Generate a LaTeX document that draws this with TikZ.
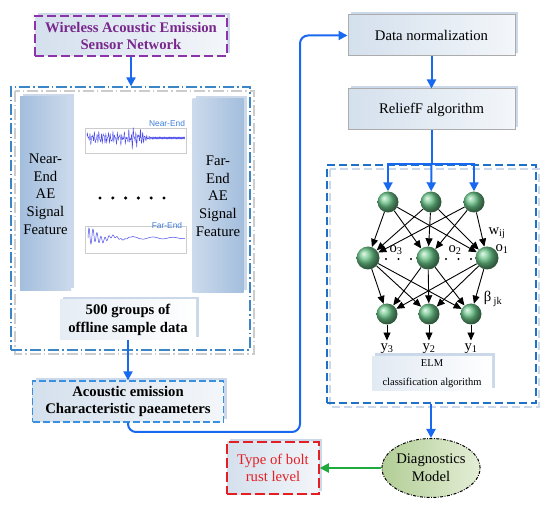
\documentclass[tikz,border=0pt]{standalone}
\usepackage{fontspec}
\setmainfont{Liberation Serif}
\newfontfamily\plotsans{Liberation Sans}
\usetikzlibrary{positioning}
\usetikzlibrary{shapes.geometric}
\usetikzlibrary{shadows,arrows.meta}
\definecolor{flowblue}{RGB}{25,105,240}
\definecolor{frameblue}{RGB}{60,134,200}
\definecolor{elmblue}{RGB}{30,112,200}
\definecolor{parablue}{RGB}{58,144,224}
\definecolor{purpleline}{RGB}{140,50,170}
\definecolor{purpletext}{RGB}{120,40,140}
\definecolor{rustred}{RGB}{228,30,35}
\definecolor{greenarrow}{RGB}{30,170,60}
\definecolor{paleblue}{RGB}{212,224,237}
\definecolor{whiteblue}{RGB}{243,246,250}
\definecolor{shadowblue}{RGB}{203,216,233}
\definecolor{bardark}{RGB}{163,190,221}
\definecolor{barlight}{RGB}{204,218,236}
\definecolor{nodegreen}{RGB}{105,195,135}
\definecolor{elldark}{RGB}{178,206,150}
\definecolor{elllight}{RGB}{228,238,214}
\definecolor{signalblue}{RGB}{75,75,235}
\definecolor{plotlabel}{RGB}{60,125,220}
\newcommand{\boxfont}{\fontsize{14.7}{17.7}\selectfont}
\newcommand{\smallboxfont}{\fontsize{10.5}{19}\selectfont}
\tikzstyle{shadowed} = [drop shadow={shadow xshift=3pt, shadow yshift=3pt, fill=shadowblue, opacity=1}]
\tikzstyle{sensorbox} = [rectangle, minimum width=192pt, minimum height=40pt, align=center, draw=purpleline, line width=1.5pt, dash pattern=on 9pt off 4pt, left color=paleblue, right color=whiteblue, shadowed, text=purpletext, font=\boxfont\bfseries]
\tikzstyle{framebox} = [rectangle, draw=frameblue, line width=1.3pt, dash pattern=on 11pt off 3pt on 1.5pt off 3pt]
\tikzstyle{barbox} = [rectangle, minimum width=51pt, minimum height=194pt, align=center, shadowed]
\tikzstyle{samplebox} = [rectangle, minimum width=136pt, minimum height=40pt, align=center, left color=paleblue!60, right color=white, shadowed, font=\boxfont\bfseries]
\tikzstyle{parambox} = [rectangle, minimum width=191pt, minimum height=41pt, align=center, draw=parablue, line width=1.3pt, dash pattern=on 7pt off 3pt, left color=paleblue, right color=whiteblue, shadowed, font=\boxfont\bfseries]
\tikzstyle{process} = [rectangle, minimum width=167pt, minimum height=41pt, align=center, draw=gray!65, line width=1pt, left color=paleblue, right color=whiteblue, shadowed]
\tikzstyle{elmframe} = [rectangle, draw=elmblue, line width=2pt, dash pattern=on 8pt off 4pt]
\tikzstyle{elmlabel} = [rectangle, minimum width=120pt, minimum height=33pt, align=center, left color=paleblue!70, right color=white, shadowed, font=\smallboxfont]
\tikzstyle{neuron} = [circle, minimum size=21pt, inner sep=0pt, shading=ball, ball color=nodegreen]
\tikzstyle{diagnosis} = [ellipse, minimum width=88pt, minimum height=59pt, inner sep=0pt, align=center, draw=black, line width=1pt, dash pattern=on 3pt off 1.5pt on 0.8pt off 1.5pt, left color=elldark, right color=elllight]
\tikzstyle{rustbox} = [rectangle, minimum width=92pt, minimum height=52pt, align=center, draw=rustred, line width=1.5pt, dash pattern=on 10pt off 4pt, left color=paleblue, right color=whiteblue, shadowed, text=rustred]
\tikzstyle{flow} = [-{Triangle[length=9pt,width=9pt]}, line width=2pt, flowblue]
\tikzstyle{netarrow} = [-{Triangle[length=8pt,width=7pt]}, line width=0.9pt, black]

\begin{document}
\begin{tikzpicture}[x=1pt, y=-1pt, font=\boxfont]
\useasboundingbox (0,0) rectangle (550,508);

% left part: sensor data
\node[sensorbox](wireless) at (131,36) {Wireless Acoustic Emission\\Sensor Network};
\draw[gray!40, line width=1.3pt, dash pattern=on 11pt off 3pt on 1.5pt off 3pt] (15,91) rectangle (254,354);
\node[framebox, minimum width=239pt, minimum height=263pt](frame) at (130.5,218.5) {};
\node[barbox, left color=bardark, right color=barlight](nearbar) at (45.5,194) {Near-\\End\\AE\\Signal\\Feature};
\node[barbox, left color=barlight, right color=bardark](farbar) at (218,196) {Far-\\End\\AE\\Signal\\Feature};
% waveforms
\draw[gray!40, line width=0.3pt] (85,128) rectangle (186,153);
\draw[signalblue, line width=0.4pt] plot[domain=0:53, samples=240] ({87+\x}, {138 - (0.8+0.7*exp(-((\x-46)^2)/12))*(4*sin(\x*157) + 3*sin(\x*251+40) + 2*sin(\x*71))});
\draw[signalblue, line width=0.5pt] plot[domain=0:45, samples=240] ({140+\x}, {138 - 9*exp(-\x/4)*sin(\x*170) - 0.9*sin(\x*283)});
\node[font=\plotsans\fontsize{8.4}{10}\selectfont, text=plotlabel](nearlabel) at (167,123) {Near-End};
\draw[gray!40, line width=0.3pt] (85,226) rectangle (186,253);
\draw[signalblue, line width=0.5pt] plot[domain=0:97, samples=300] ({88+\x}, {238 - 10*exp(-\x/12)*sin(\x*90) - 2.5*exp(-\x/70)*sin(\x*18)});
\node[font=\plotsans\fontsize{8.4}{10}\selectfont, text=plotlabel](farlabel) at (167,225) {Far-End};
\foreach \k in {0,...,5}
  \fill (100+\k*12.8,198) circle (1.7);
\node[samplebox](samples) at (128,320) {500 groups of\\offline sample data};
\node[parambox](params) at (128,401.5) {Acoustic emission\\Characteristic paeameters};
\draw[flow] (wireless.south) -- (wireless.south |- frame.north);
\draw[flow] (samples.south) -- (params.north);

% right part: feature processing and ELM
\node[process](datanorm) at (431.5,35.5) {Data normalization};
\node[process](relief) at (431.5,109.5) {ReliefF algorithm};
\coordinate (turn) at (300,432);
\draw[flow, rounded corners=8pt] (params.south) |- (turn) |- (datanorm.west);
\draw[flow] (datanorm) -- (relief);

\draw[shadowblue, line width=2pt, dash pattern=on 8pt off 4pt] (330,169) rectangle (539,407);
\node[elmframe, minimum width=209pt, minimum height=238pt](elm) at (431,284) {};
\node[neuron](in1) at (388,202) {};
\node[neuron](in2) at (431,202) {};
\node[neuron](in3) at (474,202) {};
\node[neuron, minimum size=23pt](hid1) at (368,258) {};
\node[neuron, minimum size=23pt](hid2) at (428,258) {};
\node[neuron, minimum size=23pt](hid3) at (487,258) {};
\node[neuron](out1) at (387,314) {};
\node[neuron](out2) at (429,314) {};
\node[neuron](out3) at (471,314) {};
\coordinate (split) at (431.5,164);
\draw[flowblue, line width=2pt] (relief.south) -- (split);
\draw[flow] (split) -| (in1);
\draw[flow] (split) -- (in2);
\draw[flow] (split) -| (in3);
\foreach \i in {1,2,3}
  \foreach \j in {1,2,3}
  {
    \draw[netarrow] (in\i) -- (hid\j);
    \draw[netarrow] (hid\i) -- (out\j);
  }
\foreach \k in {0,1,2}
{
  \fill (386+\k*12.5,259) circle (1.2);
  \fill (446+\k*12.5,259) circle (1.2);
}
\node(ylab1) at (387,349) {y\textsubscript{3}};
\node(ylab2) at (429,349) {y\textsubscript{2}};
\node(ylab3) at (471,349) {y\textsubscript{1}};
\foreach \k in {1,2,3}
  \draw[netarrow] (out\k) -- (ylab\k);
\node(wlabel) at (497,233) {w\textsubscript{ij}};
\node(olabel3) at (396,250) {o\textsubscript{3}};
\node(olabel2) at (455,250) {o\textsubscript{2}};
\node(olabel1) at (502,249) {o\textsubscript{1}};
\node(blabel) at (493,299) {β\,\textsubscript{jk}};
\node[elmlabel](elmtext) at (432,373.5) {ELM\\classification algorithm};

% result
\node[diagnosis](diag) at (431,468) {Diagnostics\\Model};
\node[rustbox](rust) at (273,468) {Type of bolt\\rust level};
\draw[flow] (elm.south) -- (diag.north);
\draw[flow, greenarrow] (diag) -- (rust);
\end{tikzpicture}
\end{document}
